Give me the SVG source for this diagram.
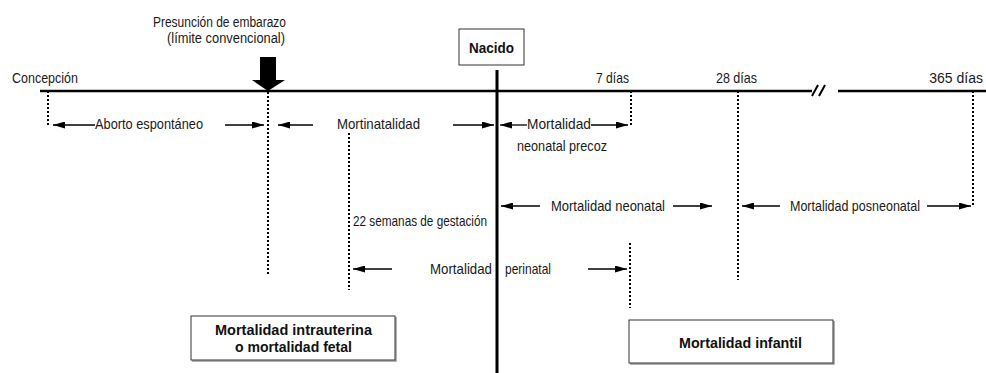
<svg xmlns="http://www.w3.org/2000/svg" width="986" height="373" viewBox="0 0 986 373">
<defs>
<marker id="ah" markerUnits="userSpaceOnUse" markerWidth="12" markerHeight="7" refX="12" refY="3.5" orient="auto"><path d="M0,0 L12,3.5 L0,7 z" fill="#000"/></marker>
</defs>
<style>
.t{font-family:"Liberation Sans Narrow","Liberation Sans",Arial,sans-serif;font-size:15px;fill:#1a1a1a}
.s{font-family:"Liberation Sans Narrow","Liberation Sans",Arial,sans-serif;font-size:14px;fill:#1a1a1a}
.b{font-family:"Liberation Sans Narrow","Liberation Sans",Arial,sans-serif;font-size:15px;font-weight:bold;fill:#111}
.b2{font-family:"Liberation Sans Narrow","Liberation Sans",Arial,sans-serif;font-size:14px;font-weight:bold;fill:#111}
.arr{stroke:#000;stroke-width:1.3;fill:none;marker-end:url(#ah)}
.dot{stroke:#000;stroke-width:2;stroke-dasharray:2 2;fill:none}
.box{fill:#fff;stroke:#333;stroke-width:1}
.sh{stroke:#999;stroke-width:1.5;fill:none}
.tl{stroke:#000;stroke-width:2.5;fill:none}
</style>
<rect width="986" height="373" fill="#fff"/>

<g id="timeline">
<line class="tl" x1="40" y1="91" x2="812" y2="91"/>
<line class="tl" x1="838" y1="91" x2="986" y2="91"/>
<line stroke="#000" stroke-width="2" x1="812" y1="96" x2="818" y2="85"/>
<line stroke="#000" stroke-width="2" x1="819" y1="96" x2="825" y2="85"/>
<line stroke="#000" stroke-width="3" x1="497" y1="70" x2="497" y2="373"/>
</g>

<g id="markers">
<line class="dot" x1="48" y1="91" x2="48" y2="126"/>
<line class="dot" x1="268" y1="92" x2="268" y2="274"/>
<line class="dot" x1="349" y1="133" x2="349" y2="290"/>
<line class="dot" x1="631" y1="91" x2="631" y2="126"/>
<line class="dot" x1="630" y1="243" x2="630" y2="308"/>
<line class="dot" x1="738" y1="91" x2="738" y2="280"/>
<line class="dot" x1="973" y1="91" x2="973" y2="207"/>
</g>

<g id="pregnancy-arrow">
<rect x="260" y="57" width="16" height="24" fill="#000"/>
<polygon points="252,80 285,80 268,91" fill="#000"/>
<text class="s" x="153" y="27" textLength="133" lengthAdjust="spacingAndGlyphs">Presunción de embarazo</text>
<text class="s" x="167" y="43" textLength="118" lengthAdjust="spacingAndGlyphs">(límite convencional)</text>
</g>

<g id="time-labels">
<text class="t" x="12" y="83" textLength="66" lengthAdjust="spacingAndGlyphs">Concepción</text>
<text class="t" x="596" y="83" textLength="33" lengthAdjust="spacingAndGlyphs">7 días</text>
<text class="t" x="716" y="83" textLength="41" lengthAdjust="spacingAndGlyphs">28 días</text>
<text class="s" x="983" y="83" text-anchor="end">365 días</text>
</g>

<g id="nacido">
<rect class="box" x="459" y="29" width="65" height="36"/>
<text class="b" x="469" y="53" textLength="45" lengthAdjust="spacingAndGlyphs">Nacido</text>
</g>

<g id="period-labels">
<text class="t" x="95" y="129" textLength="108" lengthAdjust="spacingAndGlyphs">Aborto espontáneo</text>
<text class="t" x="337" y="129" textLength="83" lengthAdjust="spacingAndGlyphs">Mortinatalidad</text>
<text class="t" x="527" y="129" textLength="64" lengthAdjust="spacingAndGlyphs">Mortalidad</text>
<text class="t" x="517" y="151" textLength="90" lengthAdjust="spacingAndGlyphs">neonatal precoz</text>
<text class="t" x="353" y="226" textLength="134" lengthAdjust="spacingAndGlyphs">22 semanas de gestación</text>
<text class="t" x="551" y="211" textLength="114" lengthAdjust="spacingAndGlyphs">Mortalidad neonatal</text>
<text class="t" x="790" y="211" textLength="130" lengthAdjust="spacingAndGlyphs">Mortalidad posneonatal</text>
<text class="t" x="430" y="274" textLength="62" lengthAdjust="spacingAndGlyphs">Mortalidad</text>
<text class="t" x="505" y="274" textLength="46" lengthAdjust="spacingAndGlyphs">perinatal</text>
</g>

<g id="connectors">
<line class="arr" x1="95" y1="125" x2="53" y2="125"/>
<line class="arr" x1="225" y1="125" x2="264" y2="125"/>
<line class="arr" x1="313" y1="125" x2="278" y2="125"/>
<line class="arr" x1="453" y1="125" x2="494" y2="125"/>
<line class="arr" x1="527" y1="125" x2="500" y2="125"/>
<line class="arr" x1="591" y1="125" x2="628" y2="125"/>
<line class="arr" x1="540" y1="206" x2="501" y2="206"/>
<line class="arr" x1="673" y1="206" x2="712" y2="206"/>
<line class="arr" x1="780" y1="206" x2="742" y2="206"/>
<line class="arr" x1="927" y1="206" x2="971" y2="206"/>
<line class="arr" x1="392" y1="269" x2="353" y2="269"/>
<line class="arr" x1="588" y1="269" x2="627" y2="269"/>
</g>

<g id="fetal-box">
<polyline class="sh" points="192,361 396,361 396,317"/>
<rect class="box" x="191" y="316" width="204" height="44"/>
<text class="b2" x="215" y="335" textLength="157" lengthAdjust="spacingAndGlyphs">Mortalidad intrauterina</text>
<text class="b2" x="235" y="352" textLength="117" lengthAdjust="spacingAndGlyphs">o mortalidad fetal</text>
</g>

<g id="infant-box">
<polyline class="sh" points="630,364 834,364 834,321"/>
<rect class="box" x="629" y="320" width="204" height="43"/>
<text class="b" x="679" y="348" textLength="123" lengthAdjust="spacingAndGlyphs">Mortalidad infantil</text>
</g>
</svg>
